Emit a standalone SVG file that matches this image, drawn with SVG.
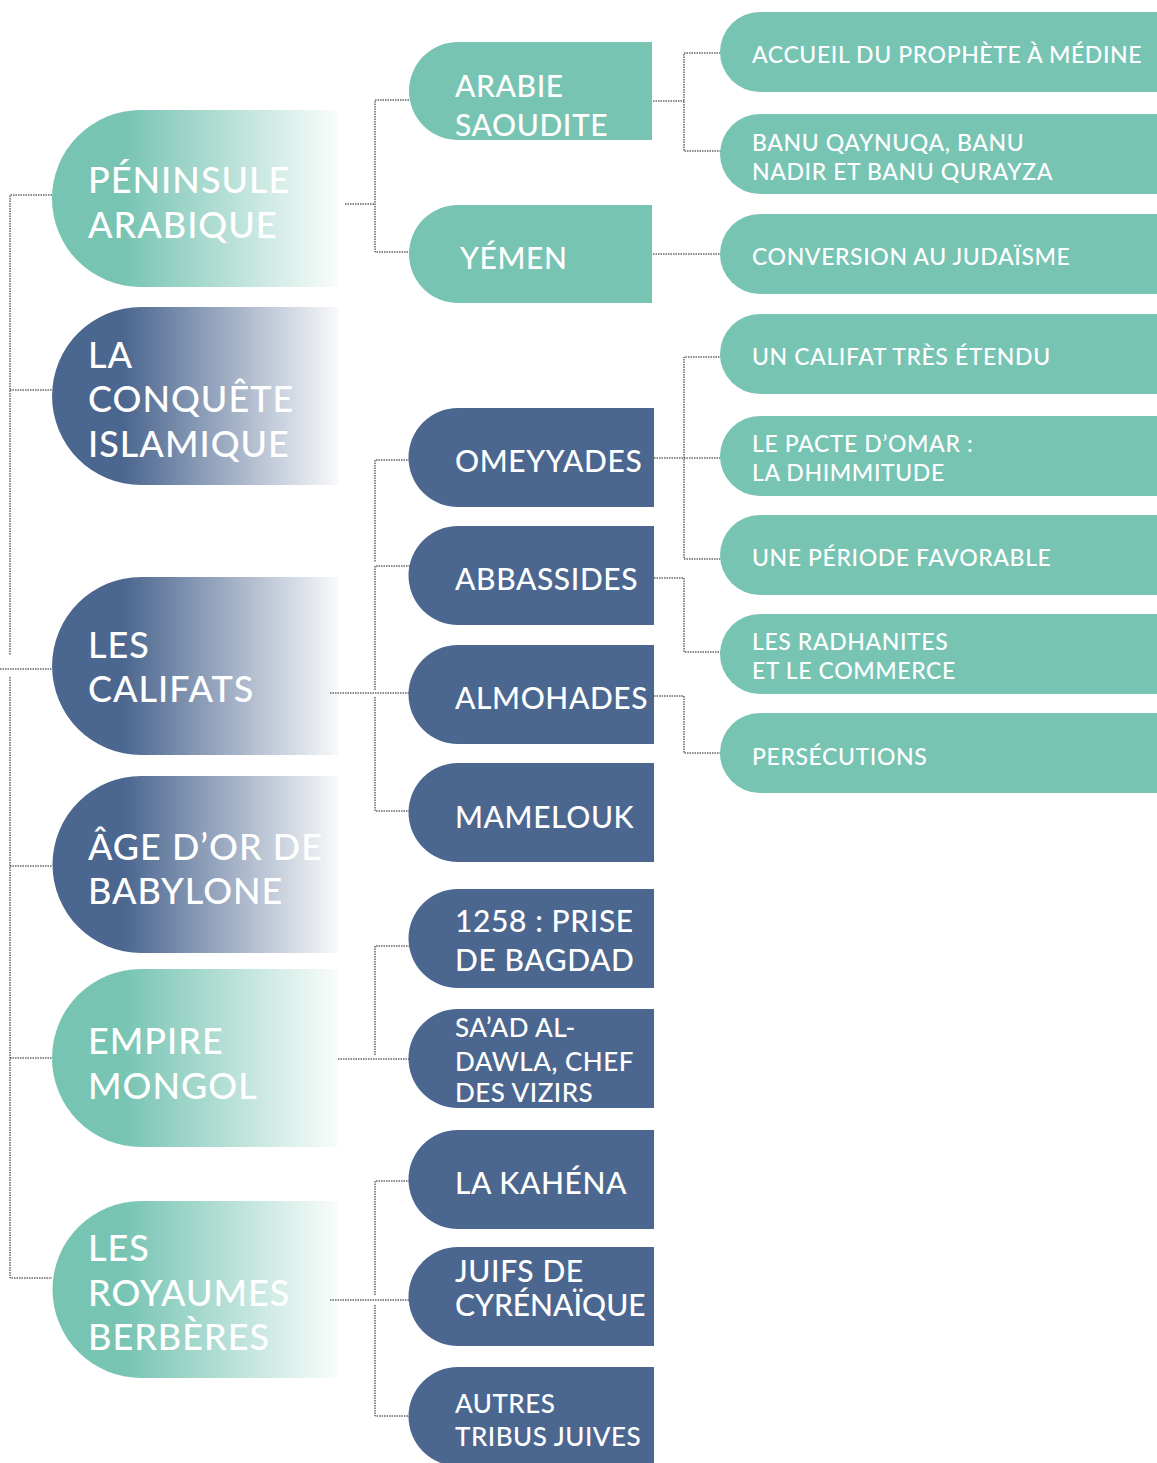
<svg xmlns="http://www.w3.org/2000/svg" width="1157" height="1463" viewBox="0 0 1157 1463">
<defs>
<linearGradient id="gTeal" x1="0" y1="0" x2="1" y2="0">
<stop offset="0" stop-color="#77c4b3"/>
<stop offset="0.25" stop-color="#77c4b3"/>
<stop offset="1" stop-color="#77c4b3" stop-opacity="0.04"/>
</linearGradient>
<linearGradient id="gBlue" x1="0" y1="0" x2="1" y2="0">
<stop offset="0" stop-color="#4b668f"/>
<stop offset="0.25" stop-color="#4b668f"/>
<stop offset="1" stop-color="#4b668f" stop-opacity="0.04"/>
</linearGradient>
<style>
.conn{fill:none;stroke:#1a1a1a;stroke-width:1;stroke-dasharray:1.5 1}
.teal{fill:#77c4b3}
.blue{fill:#4b668f}
.gt{fill:url(#gTeal)}
.gb{fill:url(#gBlue)}
text{fill:#ffffff;font-family:"Lato","Open Sans","Liberation Sans",sans-serif;font-weight:500}
.t1{font-size:36px;letter-spacing:1px}
.t2{font-size:30px;letter-spacing:0.6px}
.t2n{letter-spacing:0}
.t2s{font-size:26px;letter-spacing:0.5px}
.t3{font-size:23px;letter-spacing:0.6px}
</style>
</defs>
<rect width="1157" height="1463" fill="#ffffff"/>

<g id="connectors">
<path class="conn" d="M52,195 H10 V655 M10,390 H52 M0,669 H52 M10,677 V1278 H52 M10,866 H52 M10,1058 H52"/>
<path class="conn" d="M345,204 H375 M414,100 H375 V252 H414"/>
<path class="conn" d="M653,101 H684 M723,53 H684 V151 H723 M648,254 H722"/>
<path class="conn" d="M330,693 H410 M410,460 H375 V562 M410,566 H375 V690 M375,697 V811 H410"/>
<path class="conn" d="M654,458 H722 M722,357 H684 V559 H722 M654,578 H684 V652 H722 M654,696 H684 V753 H722"/>
<path class="conn" d="M338,1059 H410 M410,946 H375 V1056"/>
<path class="conn" d="M330,1300 H410 M410,1181 H375 V1296 M375,1305 V1416 H410"/>
</g>

<g id="n-peninsule"><path class="gt" d="M140.5,110 H338 V287 H140.5 A88.5,88.5 0 0 1 140.5,110 Z"/>
<text class="t1" x="88" y="193">PÉNINSULE</text><text class="t1" x="88" y="238">ARABIQUE</text></g>
<g id="n-conquete"><path class="gb" d="M141,307 H338 V485 H141 A89,89 0 0 1 141,307 Z"/>
<text class="t1" x="88" y="368">LA</text><text class="t1" x="88" y="412">CONQUÊTE</text><text class="t1" x="88" y="457">ISLAMIQUE</text></g>
<g id="n-califats"><path class="gb" d="M141,577 H338 V755 H141 A89,89 0 0 1 141,577 Z"/>
<text class="t1" x="88" y="658">LES</text><text class="t1" x="88" y="702">CALIFATS</text></g>
<g id="n-babylone"><path class="gb" d="M141,776 H338 V953 H141 A88.5,88.5 0 0 1 141,776 Z"/>
<text class="t1" x="88" y="860">ÂGE D’OR DE</text><text class="t1" x="88" y="904">BABYLONE</text></g>
<g id="n-mongol"><path class="gt" d="M141,969 H338 V1147 H141 A89,89 0 0 1 141,969 Z"/>
<text class="t1" x="88" y="1054">EMPIRE</text><text class="t1" x="88" y="1099">MONGOL</text></g>
<g id="n-berberes"><path class="gt" d="M141,1201 H338 V1378 H141 A88.5,88.5 0 0 1 141,1201 Z"/>
<text class="t1" x="88" y="1261">LES</text><text class="t1" x="88" y="1306">ROYAUMES</text><text class="t1" x="88" y="1350">BERBÈRES</text></g>

<g id="n-arabie"><path class="teal" d="M458,42 H652 V140 H458 A49,49 0 0 1 458,42 Z"/>
<text class="t2" x="455" y="97">ARABIE</text><text class="t2" x="455" y="136">SAOUDITE</text></g>
<g id="n-yemen"><path class="teal" d="M458,205 H652 V303 H458 A49,49 0 0 1 458,205 Z"/>
<text class="t2" x="460" y="269">YÉMEN</text></g>
<g id="n-omeyyades"><path class="blue" d="M458,408 H654 V507 H458 A49.5,49.5 0 0 1 458,408 Z"/>
<text class="t2" x="455" y="472">OMEYYADES</text></g>
<g id="n-abbassides"><path class="blue" d="M458,526 H654 V625 H458 A49.5,49.5 0 0 1 458,526 Z"/>
<text class="t2" x="455" y="590">ABBASSIDES</text></g>
<g id="n-almohades"><path class="blue" d="M458,645 H654 V744 H458 A49.5,49.5 0 0 1 458,645 Z"/>
<text class="t2" x="455" y="709">ALMOHADES</text></g>
<g id="n-mamelouk"><path class="blue" d="M458,763 H654 V862 H458 A49.5,49.5 0 0 1 458,763 Z"/>
<text class="t2" x="455" y="828">MAMELOUK</text></g>
<g id="n-bagdad"><path class="blue" d="M458,889 H654 V988 H458 A49.5,49.5 0 0 1 458,889 Z"/>
<text class="t2" x="455" y="932">1258 : PRISE</text><text class="t2" x="455" y="971">DE BAGDAD</text></g>
<g id="n-saad"><path class="blue" d="M458,1009 H654 V1108 H458 A49.5,49.5 0 0 1 458,1009 Z"/>
<text class="t2s" x="455" y="1037">SA’AD AL-</text><text class="t2s" x="455" y="1071">DAWLA, CHEF</text><text class="t2s" x="455" y="1102">DES VIZIRS</text></g>
<g id="n-kahena"><path class="blue" d="M458,1130 H654 V1229 H458 A49.5,49.5 0 0 1 458,1130 Z"/>
<text class="t2" x="455" y="1194">LA KAHÉNA</text></g>
<g id="n-cyrenaique"><path class="blue" d="M458,1247 H654 V1346 H458 A49.5,49.5 0 0 1 458,1247 Z"/>
<text class="t2" x="455" y="1282">JUIFS DE</text><text class="t2 t2n" x="455" y="1316">CYRÉNAÏQUE</text></g>
<g id="n-autres"><path class="blue" d="M458,1367 H654 V1466 H458 A49.5,49.5 0 0 1 458,1367 Z"/>
<text class="t2s" x="455" y="1413">AUTRES</text><text class="t2s" x="455" y="1446">TRIBUS JUIVES</text></g>

<g id="n-accueil"><path class="teal" d="M760,12 H1157 V92 H760 A40,40 0 0 1 760,12 Z"/>
<text class="t3" x="752" y="63">ACCUEIL DU PROPHÈTE À MÉDINE</text></g>
<g id="n-banu"><path class="teal" d="M760,114 H1157 V194 H760 A40,40 0 0 1 760,114 Z"/>
<text class="t3" x="752" y="151">BANU QAYNUQA, BANU</text><text class="t3" x="752" y="180">NADIR ET BANU QURAYZA</text></g>
<g id="n-conversion"><path class="teal" d="M760,214 H1157 V294 H760 A40,40 0 0 1 760,214 Z"/>
<text class="t3" x="752" y="265">CONVERSION AU JUDAÏSME</text></g>
<g id="n-califat"><path class="teal" d="M760,314 H1157 V394 H760 A40,40 0 0 1 760,314 Z"/>
<text class="t3" x="752" y="365">UN CALIFAT TRÈS ÉTENDU</text></g>
<g id="n-pacte"><path class="teal" d="M760,416 H1157 V496 H760 A40,40 0 0 1 760,416 Z"/>
<text class="t3" x="752" y="452">LE PACTE D’OMAR :</text><text class="t3" x="752" y="481">LA DHIMMITUDE</text></g>
<g id="n-periode"><path class="teal" d="M760,515 H1157 V595 H760 A40,40 0 0 1 760,515 Z"/>
<text class="t3" x="752" y="566">UNE PÉRIODE FAVORABLE</text></g>
<g id="n-radhanites"><path class="teal" d="M760,614 H1157 V694 H760 A40,40 0 0 1 760,614 Z"/>
<text class="t3" x="752" y="650">LES RADHANITES</text><text class="t3" x="752" y="679">ET LE COMMERCE</text></g>
<g id="n-persecutions"><path class="teal" d="M760,713 H1157 V793 H760 A40,40 0 0 1 760,713 Z"/>
<text class="t3" x="752" y="765">PERSÉCUTIONS</text></g>
</svg>
